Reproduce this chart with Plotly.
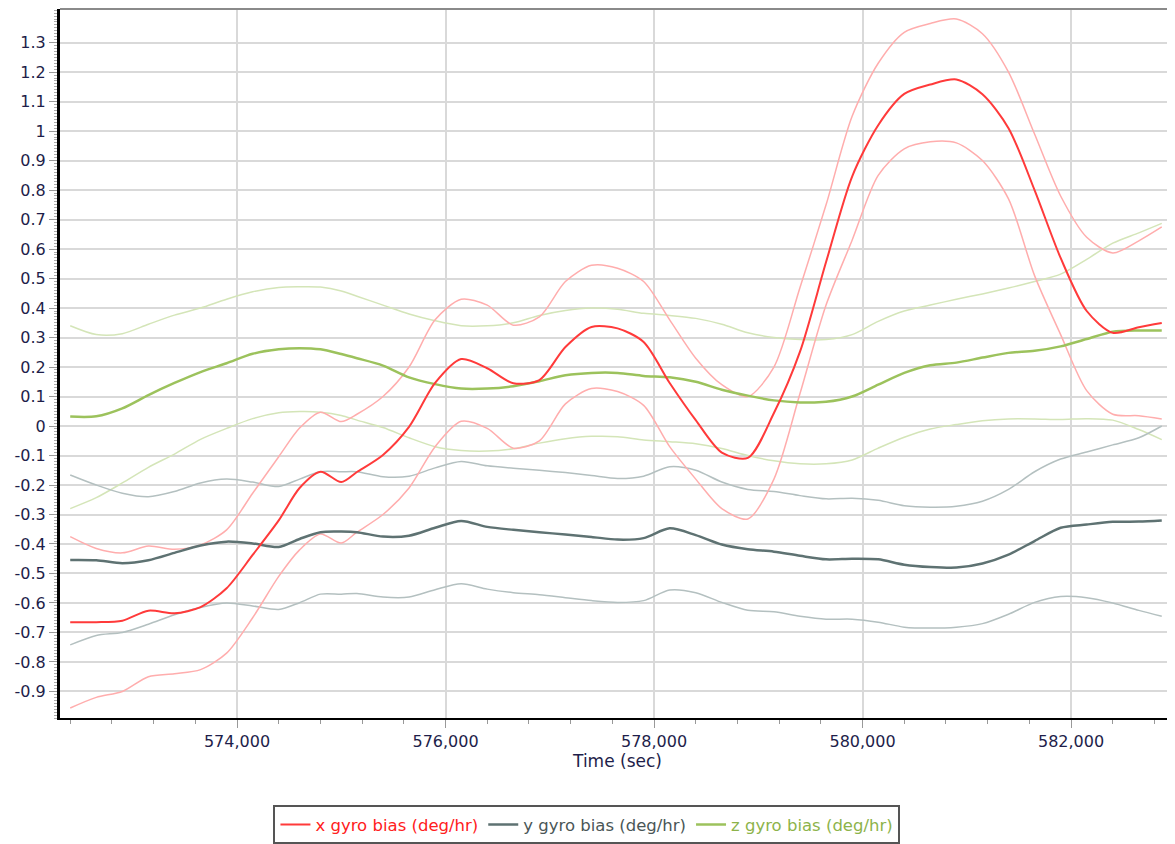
import plotly.graph_objects as go

# ---- data ----
time_sec = [572400, 572650, 572900, 573150, 573400, 573650, 573900, 574150, 574400,
            574600, 574800, 575000,
            575150, 575400, 575650, 575900, 576150, 576400, 576650, 576900, 577150,
            577400, 577650, 577900, 578150, 578400, 578650, 578900, 579150, 579400,
            579650, 579900, 580150, 580400, 580650, 580900, 581150, 581400, 581650,
            581900, 582150, 582400, 582650, 582870]

x_bias = [-0.665, -0.665, -0.66, -0.626, -0.635, -0.614, -0.55, -0.437, -0.32,
          -0.21, -0.155, -0.19,
          -0.156, -0.098, -0.003, 0.146, 0.227, 0.196, 0.145, 0.156, 0.268,
          0.336, 0.331, 0.285, 0.146, 0.02, -0.09, -0.108, 0.044, 0.252,
          0.556, 0.846, 1.02, 1.126, 1.158, 1.175, 1.125, 1.01, 0.80,
          0.57, 0.39, 0.316, 0.335, 0.349]
x_bias_upper = [-0.375, -0.415, -0.43, -0.407, -0.418, -0.403, -0.352, -0.228, -0.104,
                -0.007, 0.047, 0.015,
                0.04, 0.10, 0.20, 0.36, 0.43, 0.41, 0.342, 0.37, 0.49,
                0.545, 0.535, 0.49, 0.36, 0.23, 0.14, 0.1, 0.2, 0.47,
                0.75, 1.05, 1.23, 1.335, 1.365, 1.38, 1.33, 1.2, 0.99,
                0.78, 0.64, 0.587, 0.628, 0.675]
x_bias_lower = [-0.956, -0.92, -0.90, -0.85, -0.84, -0.826, -0.77, -0.65, -0.51,
                -0.42, -0.366, -0.397,
                -0.36, -0.30, -0.21, -0.07, 0.016, -0.008, -0.075, -0.05, 0.075,
                0.127, 0.117, 0.07, -0.07, -0.18, -0.28, -0.315, -0.18, 0.11,
                0.41, 0.63, 0.85, 0.94, 0.964, 0.96, 0.90, 0.77, 0.51,
                0.31, 0.12, 0.04, 0.035, 0.024]

y_bias = [-0.454, -0.455, -0.465, -0.455, -0.43, -0.405, -0.392, -0.398, -0.41,
          -0.383, -0.36, -0.358,
          -0.36, -0.375, -0.372, -0.345, -0.322, -0.342, -0.352, -0.36, -0.368,
          -0.376, -0.385, -0.38, -0.347, -0.37, -0.402, -0.418, -0.426, -0.44,
          -0.452, -0.45, -0.452, -0.47, -0.478, -0.48, -0.466, -0.436, -0.39,
          -0.345, -0.334, -0.325, -0.324, -0.32]
y_bias_upper = [-0.166, -0.2, -0.228, -0.24, -0.222, -0.193, -0.18, -0.19, -0.205,
                -0.18, -0.155, -0.155,
                -0.155, -0.172, -0.17, -0.142, -0.12, -0.135, -0.143, -0.15, -0.158,
                -0.168, -0.178, -0.17, -0.138, -0.15, -0.19, -0.215, -0.222, -0.236,
                -0.247, -0.245, -0.252, -0.27, -0.275, -0.272, -0.255, -0.215, -0.155,
                -0.112, -0.088, -0.064, -0.04, 0.0]
y_bias_lower = [-0.742, -0.71, -0.7, -0.672, -0.64, -0.615, -0.6, -0.61, -0.622,
                -0.599, -0.57, -0.57,
                -0.568, -0.58, -0.58, -0.555, -0.535, -0.553, -0.565, -0.572, -0.582,
                -0.592, -0.598, -0.592, -0.556, -0.565, -0.598, -0.625, -0.63, -0.645,
                -0.655, -0.655, -0.665, -0.682, -0.685, -0.682, -0.67, -0.638, -0.598,
                -0.578, -0.582, -0.6, -0.625, -0.645]

z_bias = [0.032, 0.033, 0.06, 0.105, 0.146, 0.183, 0.213, 0.245, 0.26,
          0.264, 0.26, 0.244,
          0.23, 0.205, 0.165, 0.142, 0.127, 0.127, 0.135, 0.152, 0.172,
          0.18, 0.18, 0.17, 0.165, 0.15, 0.123, 0.103, 0.087, 0.08,
          0.082, 0.10, 0.14, 0.18, 0.206, 0.215, 0.232, 0.248, 0.255,
          0.27, 0.295, 0.32, 0.324, 0.324]
z_bias_upper = [0.34, 0.31, 0.313, 0.345, 0.376, 0.40, 0.43, 0.455, 0.47,
                0.472, 0.471, 0.458,
                0.44, 0.41, 0.38, 0.357, 0.34, 0.34, 0.35, 0.375, 0.392,
                0.40, 0.396, 0.382, 0.375, 0.365, 0.345, 0.316, 0.30, 0.293,
                0.293, 0.31, 0.355, 0.39, 0.41, 0.43, 0.448, 0.468, 0.49,
                0.515, 0.565, 0.62, 0.655, 0.687]
z_bias_lower = [-0.28, -0.243, -0.193, -0.14, -0.095, -0.045, -0.008, 0.025, 0.045,
                0.049, 0.047, 0.036,
                0.02, -0.005, -0.04, -0.07, -0.083, -0.085, -0.077, -0.058, -0.043,
                -0.035, -0.036, -0.047, -0.053, -0.06, -0.076, -0.1, -0.118, -0.128,
                -0.128, -0.115, -0.075, -0.038, -0.01, 0.005, 0.018, 0.024, 0.024,
                0.022, 0.025, 0.02, -0.012, -0.046]

series_names = ["x gyro bias (deg/hr)", "y gyro bias (deg/hr)", "z gyro bias (deg/hr)"]

y_tick_vals = [-0.9, -0.8, -0.7, -0.6, -0.5, -0.4, -0.3, -0.2, -0.1, 0,
               0.1, 0.2, 0.3, 0.4, 0.5, 0.6, 0.7, 0.8, 0.9, 1.0, 1.1, 1.2, 1.3]
y_tick_text = ["-0.9", "-0.8", "-0.7", "-0.6", "-0.5", "-0.4", "-0.3", "-0.2", "-0.1", "0",
               "0.1", "0.2", "0.3", "0.4", "0.5", "0.6", "0.7", "0.8", "0.9", "1", "1.1", "1.2", "1.3"]

# ---- styles ----
RED, RED_L, RED_TXT = "#ff3a3a", "#ffadad", "#ff2020"
GRY, GRY_L, GRY_TXT = "#5e7272", "#b4c0c0", "#4a5656"
GRN, GRN_L, GRN_TXT = "#9cc25c", "#d4e5b8", "#8db34a"

FONT = "DejaVu Sans"
TICK_COLOR = "#1e1e4a"

fig = go.Figure()

def add(yvals, color, width, name=None, legend=False, rank=None):
    fig.add_trace(go.Scatter(
        x=time_sec, y=yvals, mode="lines",
        line=dict(color=color, width=width, shape="spline", smoothing=0.8),
        name=name if name else "", showlegend=legend,
        legendrank=rank if rank else 1000, hoverinfo="skip"))

# confidence bounds
add(z_bias_upper, GRN_L, 1.5)
add(z_bias_lower, GRN_L, 1.5)
add(y_bias_upper, GRY_L, 1.5)
add(y_bias_lower, GRY_L, 1.5)
add(x_bias_upper, RED_L, 1.5)
add(x_bias_lower, RED_L, 1.5)
# main estimates
add(z_bias, GRN, 2.5, f"<span style='color:{GRN_TXT}'>{series_names[2]}</span>", True, 3)
add(y_bias, GRY, 2.5, f"<span style='color:{GRY_TXT}'>{series_names[1]}</span>", True, 2)
add(x_bias, RED, 2, f"<span style='color:{RED_TXT}'>{series_names[0]}</span>", True, 1)

fig.update_layout(
    width=1175, height=844,
    margin=dict(l=52, r=8, t=1, b=134),
    paper_bgcolor="white", plot_bgcolor="white",
    font=dict(family=FONT, size=16, color=TICK_COLOR),
    showlegend=True,
    legend=dict(orientation="h", x=0.4726, xanchor="center", y=-0.123, yanchor="top",
                bordercolor="#555555", borderwidth=2, bgcolor="white",
                font=dict(family=FONT, size=16.5), itemwidth=30,
                traceorder="normal"),
    shapes=[dict(type="line", xref="paper", yref="paper", x0=0, x1=1, y0=1, y1=1,
                 line=dict(color="#8a8a8a", width=2))],
)

fig.update_xaxes(
    range=[572302, 582997],
    dtick=2000, tick0=574000, tickformat=",d",
    showgrid=True, gridcolor="#d9d9d9", gridwidth=2,
    showline=True, linecolor="black", linewidth=2,
    ticks="outside", ticklen=8, tickcolor="#999999", tickwidth=1,
    minor=dict(dtick=400, tick0=574000, ticks="outside", ticklen=4, tickcolor="#999999", showgrid=False),
    tickfont=dict(family=FONT, size=16, color=TICK_COLOR),
    title=dict(text="Time (sec)", font=dict(family=FONT, size=17, color=TICK_COLOR), standoff=0),
    zeroline=False,
)
fig.update_yaxes(
    range=[-0.99, 1.414],
    tickmode="array", tickvals=y_tick_vals, ticktext=y_tick_text,
    showgrid=True, gridcolor="#d9d9d9", gridwidth=2,
    showline=True, linecolor="black", linewidth=3,
    ticks="outside", ticklen=8, tickcolor="#999999", tickwidth=1,
    minor=dict(dtick=0.01, tick0=0, ticks="outside", ticklen=3, tickcolor="#aaaaaa", showgrid=False),
    tickfont=dict(family=FONT, size=16, color=TICK_COLOR),
    zeroline=False,
)

fig.write_html("out.html")
